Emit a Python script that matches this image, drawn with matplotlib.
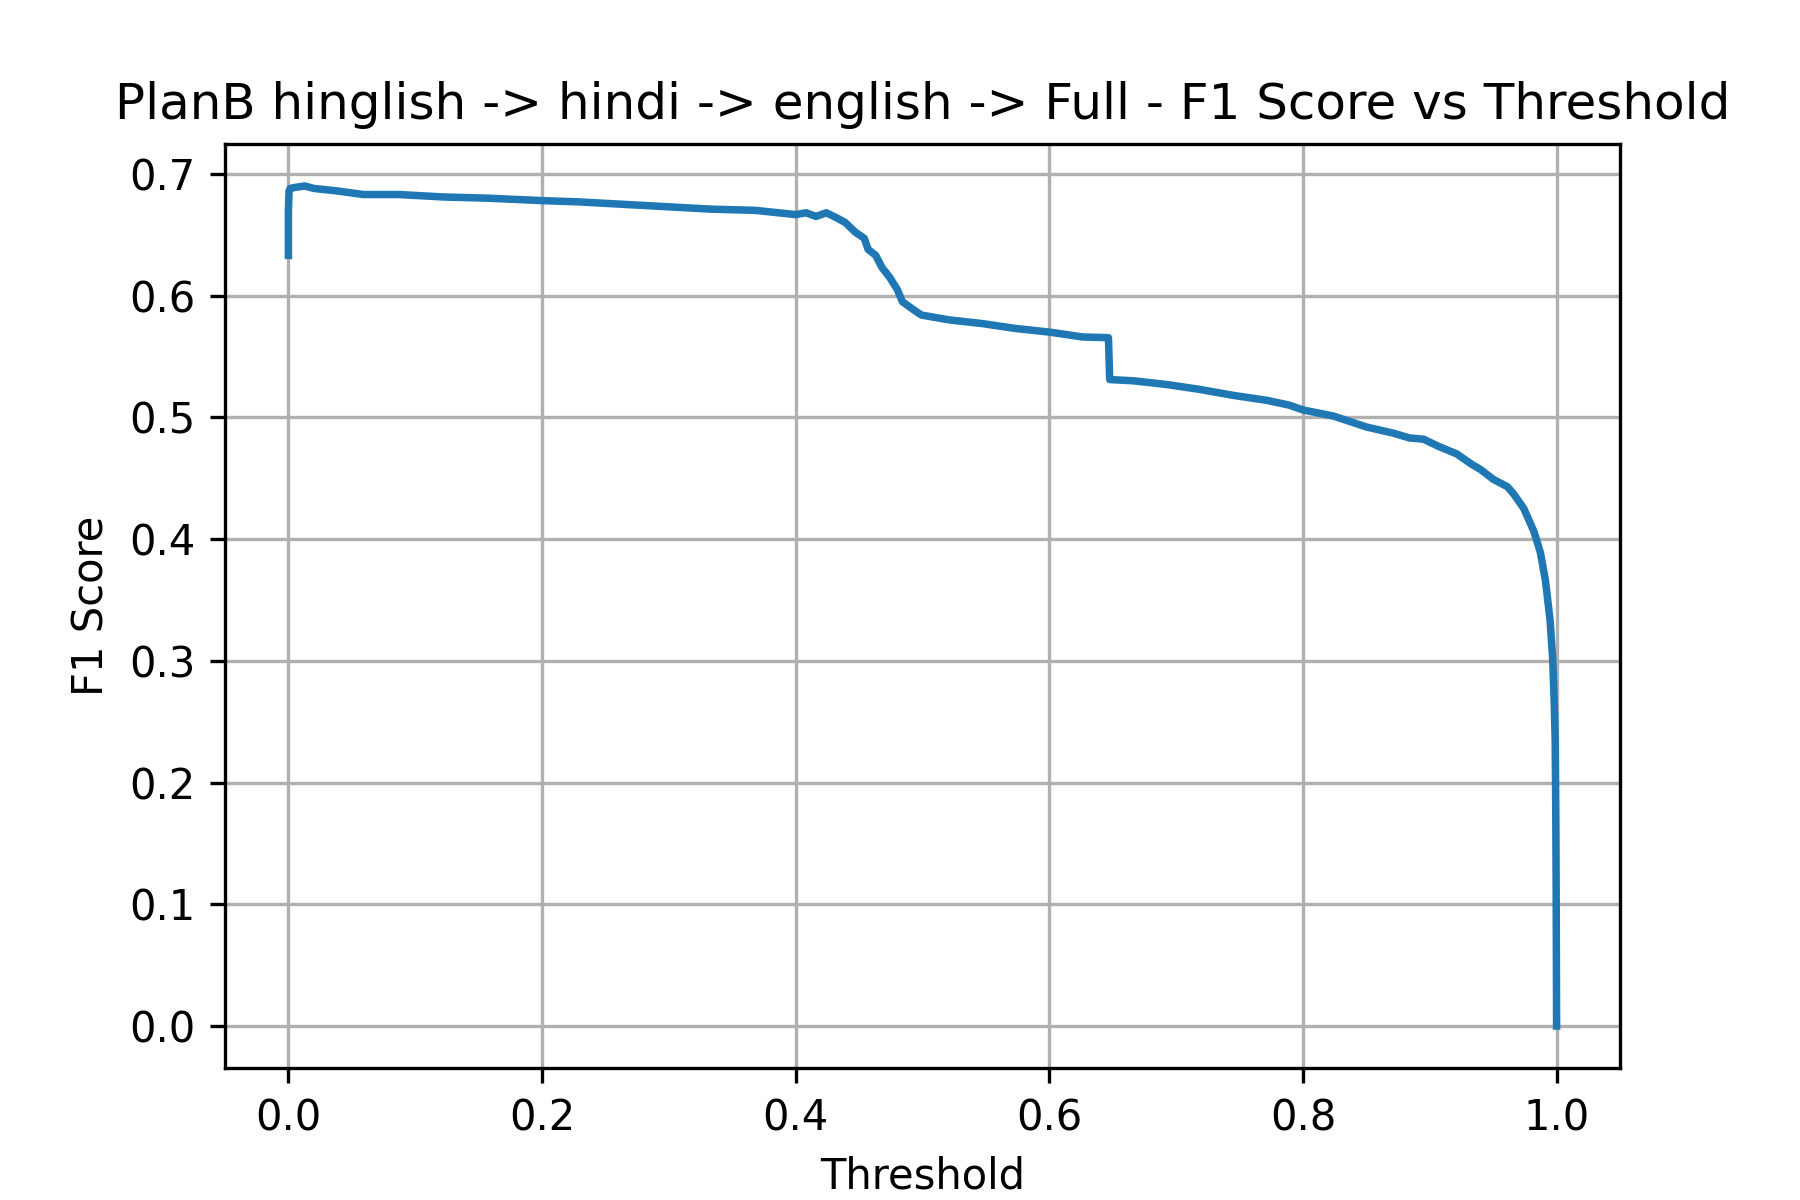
import matplotlib
matplotlib.use("Agg")
import matplotlib.pyplot as plt

# thresholds and f1 values
thresholds = [0.0, 0.0, 0.0005, 0.0014, 0.006, 0.013, 0.020, 0.038, 0.059, 0.087,
              0.122, 0.157, 0.2, 0.228, 0.263, 0.298, 0.333, 0.368, 0.4, 0.408,
              0.416, 0.424, 0.432, 0.439, 0.447, 0.454, 0.457, 0.463, 0.468, 0.474,
              0.480, 0.484, 0.492, 0.499, 0.521, 0.547, 0.573, 0.600, 0.626, 0.6465,
              0.6475, 0.666, 0.692, 0.718, 0.745, 0.771, 0.789, 0.8, 0.824, 0.850,
              0.871, 0.884, 0.895, 0.907, 0.921, 0.932, 0.940, 0.950, 0.961, 0.966,
              0.974, 0.982, 0.987, 0.991, 0.9947, 0.9968, 0.9979, 0.9987, 0.9992,
              0.9995, 0.9998]
f1_scores = [0.633, 0.670, 0.686, 0.688, 0.689, 0.690, 0.688, 0.686, 0.683, 0.683,
             0.681, 0.680, 0.678, 0.677, 0.675, 0.673, 0.671, 0.670, 0.6665, 0.668,
             0.665, 0.668, 0.664, 0.660, 0.652, 0.647, 0.638, 0.633, 0.623, 0.615,
             0.605, 0.595, 0.589, 0.584, 0.580, 0.577, 0.573, 0.570, 0.566, 0.5654,
             0.531, 0.530, 0.527, 0.523, 0.518, 0.514, 0.510, 0.506, 0.501, 0.492,
             0.487, 0.483, 0.482, 0.476, 0.470, 0.462, 0.457, 0.449, 0.443, 0.437,
             0.425, 0.406, 0.389, 0.366, 0.333, 0.300, 0.267, 0.234, 0.168,
             0.102, 0.0]

plt.figure(figsize=(6, 4), dpi=300)

plt.plot(thresholds, f1_scores, linewidth=1.8)

plt.title("PlanB hinglish -> hindi -> english -> Full - F1 Score vs Threshold")
plt.xlabel("Threshold")
plt.ylabel("F1 Score")
plt.grid(True)

plt.savefig("out.png", dpi=300)
plt.close()
